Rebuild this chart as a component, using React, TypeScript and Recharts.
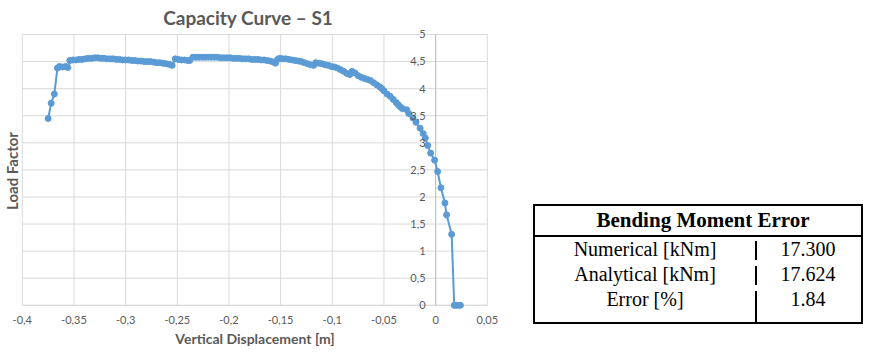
import {
  LineChart,
  Line,
  XAxis,
  YAxis,
  CartesianGrid,
  ReferenceLine,
  ReferenceDot,
} from "recharts";

// vertical displacement [m]
const disp = [
  -0.375, -0.372, -0.369, -0.366, -0.364, -0.361, -0.358, -0.356, -0.354,
  -0.351, -0.348, -0.345, -0.342, -0.339, -0.336, -0.333, -0.33, -0.327,
  -0.324, -0.321, -0.318, -0.315, -0.312, -0.309, -0.306, -0.303, -0.3,
  -0.297, -0.294, -0.291, -0.288, -0.285, -0.282, -0.279, -0.276, -0.273,
  -0.27, -0.267, -0.264, -0.261, -0.258, -0.255, -0.252, -0.249, -0.246,
  -0.243, -0.24, -0.238, -0.235, -0.232, -0.229, -0.226, -0.223, -0.22,
  -0.217, -0.214, -0.211, -0.208, -0.205, -0.202, -0.199, -0.196, -0.193,
  -0.19, -0.187, -0.184, -0.181, -0.178, -0.175, -0.172, -0.169, -0.166,
  -0.163, -0.16, -0.157, -0.155, -0.153, -0.151, -0.148, -0.145, -0.142,
  -0.139, -0.136, -0.133, -0.13, -0.127, -0.124, -0.121, -0.118, -0.116,
  -0.113, -0.11, -0.107, -0.104, -0.101, -0.098, -0.095, -0.092, -0.089,
  -0.086, -0.083, -0.081, -0.078, -0.075, -0.072, -0.069, -0.066, -0.063,
  -0.06, -0.057, -0.054, -0.052, -0.05, -0.047, -0.044, -0.041, -0.038,
  -0.036, -0.034, -0.032, -0.028, -0.026, -0.022, -0.019, -0.015, -0.012,
  -0.01, -0.0077, -0.0048, -0.001, 0.0019, 0.0051, 0.009, 0.0106, 0.0155,
  0.018, 0.02, 0.0225, 0.024,
];

// load factor
const load = [
  3.45, 3.73, 3.9, 4.38, 4.41, 4.4, 4.41, 4.39, 4.52,
  4.53, 4.53, 4.54, 4.54, 4.55, 4.56, 4.56, 4.57, 4.57,
  4.56, 4.56, 4.55, 4.55, 4.55, 4.54, 4.54, 4.53, 4.53,
  4.53, 4.52, 4.52, 4.51, 4.51, 4.5, 4.5, 4.5, 4.49,
  4.48, 4.48, 4.47, 4.46, 4.45, 4.43, 4.55, 4.54, 4.53,
  4.53, 4.52, 4.52, 4.58, 4.58, 4.58, 4.58, 4.58, 4.58,
  4.58, 4.58, 4.58, 4.57, 4.57, 4.57, 4.57, 4.56, 4.56,
  4.56, 4.55, 4.55, 4.55, 4.54, 4.54, 4.54, 4.53, 4.53,
  4.52, 4.51, 4.49, 4.47, 4.54, 4.56, 4.55, 4.55, 4.54,
  4.53, 4.52, 4.51, 4.5, 4.48, 4.46, 4.44, 4.43, 4.48,
  4.47, 4.46, 4.44, 4.43, 4.41, 4.4, 4.38, 4.35, 4.32,
  4.28, 4.26, 4.32, 4.29, 4.24, 4.21, 4.19, 4.17, 4.15,
  4.11, 4.07, 4.03, 4.0, 3.96, 3.9, 3.86, 3.8, 3.74,
  3.7, 3.66, 3.63, 3.61, 3.54, 3.46, 3.38, 3.27, 3.17,
  3.09, 2.95, 2.81, 2.68, 2.47, 2.17, 1.89, 1.67, 1.31,
  0, 0, 0, 0,
];

const xTicks = [-0.4, -0.35, -0.3, -0.25, -0.2, -0.15, -0.1, -0.05, 0, 0.05];
const yTicks = [0, 0.5, 1, 1.5, 2, 2.5, 3, 3.5, 4, 4.5, 5];

const tableRows = [
  ["Numerical [kNm]", "17.300"],
  ["Analytical [kNm]", "17.624"],
  ["Error [%]", "1.84"],
];

const data = disp.map((d, i) => ({ d, lf: load[i] }));

const fmt = (v: number) => String(v).replace(".", ",");

const gray = "#595959";
const font = "Lato, 'Open Sans', sans-serif";

export default function App() {
  return (
    <div style={{ position: "relative", width: 871, height: 352, background: "#fff" }}>
      <style>{"body{margin:0}"}</style>

      {/* TITLE */}
      <div
        style={{
          position: "absolute",
          left: 248,
          top: 17,
          transform: "translate(-50%,-50%)",
          fontFamily: font,
          fontWeight: 700,
          fontSize: 19,
          color: gray,
          whiteSpace: "nowrap",
        }}
      >
        Capacity Curve – S1
      </div>

      {/* CHART */}
      <div style={{ position: "absolute", left: 0, top: 0 }}>
        <LineChart
          width={500}
          height={352}
          data={data}
          margin={{ top: 34.5, right: 12.7, left: 22.3, bottom: 16.7 }}
        >
          <CartesianGrid stroke="#d9d9d9" horizontal={false} />
          <XAxis
            dataKey="d"
            type="number"
            domain={[-0.4, 0.05]}
            ticks={xTicks}
            tickFormatter={fmt}
            height={30}
            tickLine={false}
            tickMargin={5}
            axisLine={{ stroke: "#d9d9d9" }}
            tick={{ fontSize: 11, fill: gray, fontFamily: font }}
            interval={0}
          />
          <YAxis
            type="number"
            domain={[0, 5]}
            ticks={yTicks}
            width={0}
            tick={false}
            axisLine={false}
            tickLine={false}
          />
          {/* horizontal grid */}
          {yTicks.map((t) => (
            <ReferenceLine key={"h" + t} y={t} stroke="#d9d9d9" />
          ))}
          <ReferenceLine x={0} stroke="#bfbfbf" />
          {yTicks.map((t) => (
            <ReferenceDot
              key={t}
              x={0}
              y={t}
              r={0}
              fill="none"
              stroke="none"
              label={{
                value: fmt(t),
                position: "left",
                offset: 10,
                fontSize: 11,
                fill: gray,
                fontFamily: font,
              }}
            />
          ))}
          <Line
            dataKey="lf"
            stroke="#5b9bd5"
            strokeWidth={2}
            dot={{ r: 3, fill: "#5b9bd5", stroke: "#5b9bd5", strokeWidth: 1 }}
            isAnimationActive={false}
          />
        </LineChart>
      </div>

      {/* AXIS TITLES */}
      <div
        style={{
          position: "absolute",
          left: 255,
          top: 338,
          transform: "translate(-50%,-50%)",
          fontFamily: font,
          fontWeight: 700,
          fontSize: 14,
          color: gray,
          whiteSpace: "nowrap",
        }}
      >
        Vertical Displacement [m]
      </div>
      <div
        style={{
          position: "absolute",
          left: 12,
          top: 171,
          transform: "translate(-50%,-50%) rotate(-90deg)",
          fontFamily: font,
          fontWeight: 700,
          fontSize: 15,
          color: gray,
          whiteSpace: "nowrap",
        }}
      >
        Load Factor
      </div>

      {/* TABLE */}
      <table
        style={{
          position: "absolute",
          left: 533,
          top: 204,
          width: 330,
          borderCollapse: "collapse",
          border: "2px solid #000",
          fontFamily: "'Liberation Serif', 'Times New Roman', serif",
          fontSize: 20,
          color: "#000",
        }}
      >
        <tbody>
          <tr style={{ borderBottom: "2px solid #000" }}>
            <th
              colSpan={2}
              style={{ height: 29, padding: "0 0 0 10px", fontSize: 21, fontWeight: 700, lineHeight: "29px" }}
            >
              Bending Moment Error
            </th>
          </tr>
          {tableRows.map(([k, v], i) => (
            <tr key={k}>
              <td
                style={{
                  width: 220,
                  padding: 0,
                  textAlign: "center",
                  lineHeight: "25px",
                  height: 25,
                  paddingBottom: i === tableRows.length - 1 ? 10 : 0,
                  verticalAlign: "top",
                }}
              >
                {k}
              </td>
              <td
                style={{
                  position: "relative",
                  padding: 0,
                  textAlign: "center",
                  lineHeight: "25px",
                  height: 25,
                  paddingBottom: i === tableRows.length - 1 ? 10 : 0,
                  verticalAlign: "top",
                }}
              >
                <div
                  style={{
                    position: "absolute",
                    left: 0,
                    top: 4,
                    bottom: i === tableRows.length - 1 ? 0 : 2,
                    width: 2,
                    background: "#000",
                  }}
                />
                {v}
              </td>
            </tr>
          ))}
        </tbody>
      </table>
    </div>
  );
}
